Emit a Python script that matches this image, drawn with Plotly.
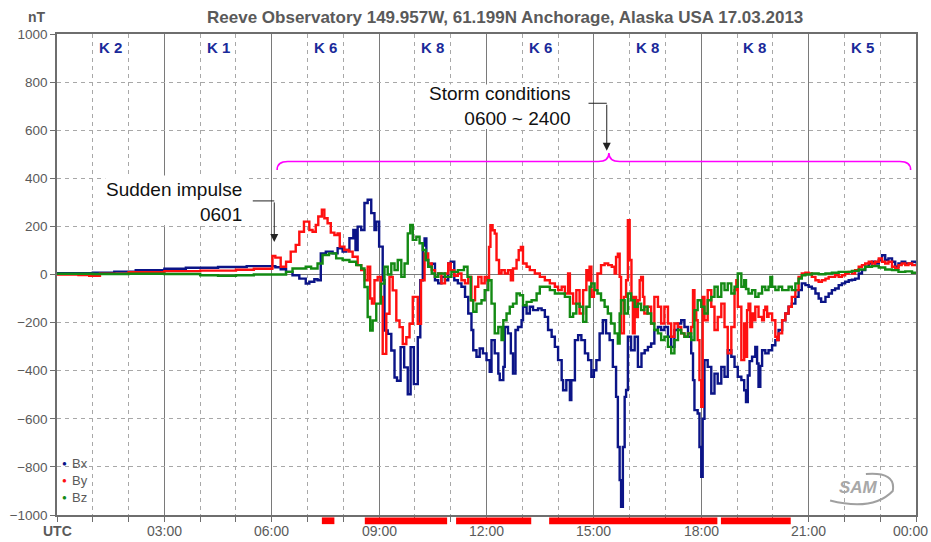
import plotly.graph_objects as go

# Magnetometer readings (hour UTC, nT)
bx_readings = [
    (0, 5), (0.5, 5), (1.0, 8), (1.6, 12), (2.2, 18), (3.0, 24), (3.6, 28), (4.5, 31), (5.3, 35), (6.0, 35),
    (6.1, 30), (6.25, 22), (6.4, 11), (6.58, -3), (6.77, -17), (6.95, -38), (7.05, -30), (7.19, -20), (7.28, -24),
    (7.37, 88), (7.51, 95), (7.7, 88), (7.84, 109), (7.98, 95), (8.08, 102), (8.17, 151), (8.28, 185), (8.34, 102),
    (8.4, 199), (8.5, 185), (8.59, 297), (8.68, 311), (8.78, 255), (8.87, 185), (8.92, 220), (9.0, 116), (9.1, -24),
    (9.15, -233), (9.24, -247), (9.34, -316), (9.43, -428), (9.5, -442), (9.6, -302), (9.7, -386), (9.8, -498),
    (9.88, -302), (9.97, -456), (10.08, -261), (10.15, -24), (10.22, 120), (10.27, 150), (10.32, 60), (10.37, 32),
    (10.47, 45), (10.56, -24), (10.65, -37), (10.74, -10), (10.84, -24), (10.93, 46), (11.0, 53), (11.1, -24),
    (11.2, -37), (11.3, -51), (11.4, -93), (11.49, -162), (11.58, -231), (11.63, -315), (11.72, -342), (11.81, -308),
    (11.9, -328), (12.0, -356), (12.09, -405), (12.14, -273), (12.23, -328), (12.33, -412), (12.37, -439),
    (12.47, -384), (12.51, -218), (12.6, -245), (12.68, -328), (12.74, -412), (12.81, -231), (12.88, -218),
    (12.98, -190), (13.02, -134), (13.12, -162), (13.21, -134), (13.3, -148), (13.44, -141), (13.54, -148),
    (13.63, -176), (13.72, -231), (13.82, -259), (13.91, -301), (14.0, -356), (14.1, -439), (14.14, -481),
    (14.23, -439), (14.33, -522), (14.37, -440), (14.47, -273), (14.56, -252), (14.65, -273), (14.75, -328),
    (14.84, -356), (14.93, -425), (15.0, -398), (15.07, -356), (15.16, -245), (15.25, -190), (15.34, -245),
    (15.44, -273), (15.53, -384), (15.62, -509), (15.67, -717), (15.72, -855), (15.76, -966), (15.81, -717),
    (15.86, -509), (15.9, -480), (15.95, -259), (16.04, -315), (16.14, -259), (16.23, -384), (16.33, -328),
    (16.42, -315), (16.51, -301), (16.6, -287), (16.69, -231), (16.79, -218), (16.88, -231), (16.97, -218),
    (17.07, -259), (17.16, -301), (17.25, -231), (17.35, -204), (17.44, -190), (17.53, -218), (17.63, -259),
    (17.72, -328), (17.77, -439), (17.81, -564), (17.9, -578), (17.95, -717), (18.0, -841), (18.04, -600),
    (18.09, -356), (18.18, -384), (18.28, -495), (18.37, -412), (18.46, -453), (18.56, -384), (18.65, -425),
    (18.74, -315), (18.84, -342), (18.93, -384), (19.02, -425), (19.12, -439), (19.2, -481), (19.25, -530),
    (19.3, -420), (19.35, -360), (19.42, -342), (19.51, -301), (19.56, -370), (19.6, -467), (19.65, -380),
    (19.7, -315), (19.79, -328), (19.88, -315), (19.98, -294), (20.07, -273), (20.16, -231), (20.26, -190),
    (20.35, -162), (20.44, -134), (20.53, -121), (20.63, -93), (20.72, -65), (20.81, -37), (20.91, -44),
    (21.0, -51), (21.09, -58), (21.19, -79), (21.28, -100), (21.35, -114), (21.47, -93), (21.56, -79),
    (21.65, -65), (21.74, -58), (21.84, -44), (21.93, -37), (22.02, -30), (22.12, -24), (22.21, -22),
    (22.3, -17), (22.4, 4), (22.49, 18), (22.58, 32), (22.68, 46), (22.77, 53), (22.86, 46), (22.96, 60),
    (23.05, 80), (23.14, 60), (23.23, 67), (23.33, 53), (23.42, 32), (23.51, 46), (23.6, 53), (23.7, 46),
    (23.79, 46), (23.89, 53), (24.0, 46),
]

by_readings = [
    (0, 0), (0.6, -2), (0.9, -5), (1.2, 3), (2.0, 10), (3.0, 14), (4.0, 16), (5.0, 20), (5.5, 24), (6.0, 25),
    (6.02, 77), (6.1, 70), (6.25, 32), (6.4, 53), (6.53, 95), (6.67, 123), (6.77, 178), (6.9, 220), (7.05, 185),
    (7.14, 178), (7.23, 206), (7.3, 241), (7.4, 269), (7.47, 234), (7.56, 213), (7.65, 174), (7.75, 164),
    (7.84, 171), (7.9, 116), (8.03, 102), (8.15, 95), (8.26, 74), (8.4, 39), (8.5, 18), (8.6, -24), (8.68, 32),
    (8.75, -100), (8.8, -121), (8.87, -24), (8.96, -10), (9.05, -93), (9.1, -330), (9.2, -163), (9.29, -10),
    (9.38, -66), (9.48, -191), (9.57, -219), (9.66, -289), (9.76, -261), (9.85, -205), (9.94, -93), (10.08, -205),
    (10.17, -24), (10.27, 88), (10.37, 46), (10.47, 18), (10.56, -10), (10.65, 4), (10.74, -37), (10.84, 4),
    (10.93, 46), (11.0, 18), (11.1, -5), (11.2, 4), (11.3, -24), (11.4, -37), (11.49, -10), (11.58, -107),
    (11.68, -51), (11.77, -10), (11.86, -37), (11.95, -10), (12.02, -24), (12.07, 115), (12.11, 205),
    (12.17, 184), (12.23, 170), (12.28, 60), (12.35, 4), (12.42, 18), (12.51, 4), (12.6, 18), (12.68, -24),
    (12.74, 25), (12.84, 60), (12.9, 101), (12.96, 115), (13.02, 46), (13.12, 32), (13.21, 18), (13.35, 4),
    (13.49, -10), (13.63, -24), (13.77, -37), (13.91, -51), (14.0, -65), (14.1, -51), (14.19, -79), (14.28, 4),
    (14.33, -79), (14.42, -121), (14.51, -65), (14.6, -162), (14.7, -65), (14.79, 18), (14.84, -24), (14.88, 32),
    (14.93, -93), (15.0, -65), (15.1, 4), (15.2, 39), (15.3, 46), (15.4, 39), (15.5, 32), (15.58, 4),
    (15.62, 73), (15.67, 87), (15.72, -10), (15.76, -245), (15.84, -93), (15.9, -24), (15.95, 226), (16.0, 60),
    (16.05, -93), (16.09, -245), (16.14, -93), (16.18, -177), (16.23, -107), (16.28, -24), (16.32, -10),
    (16.37, -93), (16.41, -162), (16.5, -134), (16.6, -204), (16.69, -93), (16.79, -134), (16.88, -204),
    (16.97, -134), (17.07, -204), (17.16, -259), (17.25, -204), (17.35, -218), (17.44, -245), (17.53, -259),
    (17.63, -245), (17.72, -218), (17.77, -65), (17.81, -148), (17.86, -190), (17.9, -273), (17.95, -439),
    (18.0, -550), (18.04, -93), (18.09, -190), (18.18, -65), (18.28, -134), (18.37, -231), (18.46, -177),
    (18.56, -121), (18.65, -218), (18.74, -328), (18.84, -218), (18.93, -65), (18.98, -24), (19.02, -134),
    (19.12, -356), (19.2, -204), (19.23, -342), (19.28, -148), (19.32, -121), (19.37, -218), (19.42, -162),
    (19.47, -190), (19.51, -134), (19.6, -176), (19.7, -190), (19.75, -148), (19.79, -134), (19.84, -176),
    (19.88, -162), (19.98, -190), (20.07, -259), (20.12, -273), (20.16, -245), (20.26, -190), (20.35, -162),
    (20.44, -134), (20.53, -93), (20.63, -65), (20.72, -10), (20.81, 4), (20.91, 7), (21.0, 4), (21.09, -10),
    (21.19, -24), (21.28, -30), (21.37, -24), (21.47, -17), (21.56, -10), (21.65, -10), (21.74, -3),
    (21.84, -10), (21.93, -3), (22.02, 4), (22.12, 11), (22.21, 4), (22.3, 18), (22.4, 32), (22.49, 39),
    (22.58, 46), (22.68, 53), (22.77, 46), (22.86, 53), (22.96, 67), (23.05, 53), (23.14, 46), (23.23, 53),
    (23.33, 32), (23.42, 25), (23.51, 39), (23.6, 46), (23.7, 39), (23.79, 46), (23.89, 39), (24.0, 39),
]

bz_readings = [
    (0, 3), (1.0, 2), (2.0, 3), (3.0, 2), (4.0, -3), (4.5, -5), (5.0, -3), (5.5, 0), (6.0, 0),
    (6.2, 0), (6.4, 11), (6.58, 25), (6.77, 25), (6.95, 32), (7.1, 25), (7.28, 46), (7.42, 81), (7.6, 88),
    (7.8, 67), (7.98, 60), (8.17, 53), (8.36, 39), (8.5, 25), (8.59, -52), (8.68, -177), (8.75, -233),
    (8.82, -191), (8.92, -121), (9.05, -38), (9.15, 32), (9.24, 0), (9.34, 46), (9.43, 18), (9.52, 60),
    (9.62, -10), (9.71, 46), (9.8, 171), (9.87, 206), (9.94, 144), (10.04, 157), (10.13, 130), (10.22, 102),
    (10.3, 60), (10.37, 32), (10.47, 4), (10.56, -10), (10.65, 4), (10.84, -10), (11.02, 11), (11.2, 18),
    (11.37, 32), (11.47, -10), (11.56, -107), (11.63, -155), (11.72, -121), (11.86, -107), (11.95, -65),
    (12.05, -24), (12.14, -121), (12.23, -245), (12.33, -218), (12.42, -273), (12.47, -190), (12.56, -162),
    (12.65, -134), (12.74, -121), (12.84, -79), (12.93, -86), (13.02, -128), (13.12, -114), (13.26, -107),
    (13.4, -79), (13.49, -51), (13.63, -51), (13.77, -65), (13.91, -79), (14.05, -79), (14.19, -93),
    (14.33, -176), (14.42, -162), (14.51, -121), (14.6, -134), (14.7, -197), (14.79, -134), (14.88, -51),
    (14.93, -37), (15.02, -65), (15.1, -79), (15.2, -107), (15.3, -134), (15.39, -162), (15.48, -204),
    (15.58, -245), (15.67, -287), (15.72, -162), (15.76, -107), (15.86, -162), (15.95, -79), (16.04, -107),
    (16.14, -134), (16.23, -121), (16.32, -148), (16.41, -134), (16.5, -162), (16.6, -204), (16.69, -231),
    (16.79, -245), (16.88, -273), (16.97, -259), (17.07, -301), (17.16, -328), (17.25, -273), (17.35, -231),
    (17.44, -245), (17.53, -259), (17.63, -245), (17.72, -273), (17.81, -148), (17.9, -107), (18.0, -134),
    (18.09, -162), (18.18, -107), (18.28, -93), (18.37, -51), (18.46, -93), (18.56, -37), (18.65, -65),
    (18.74, -37), (18.84, -79), (18.93, -51), (19.02, 4), (19.12, -51), (19.2, -24), (19.25, -60),
    (19.32, -79), (19.42, -65), (19.51, -93), (19.6, -79), (19.7, -51), (19.79, -65), (19.88, -51),
    (19.93, -10), (19.98, -51), (20.07, -65), (20.16, -51), (20.26, -65), (20.35, -65), (20.44, -51),
    (20.53, -65), (20.63, -37), (20.72, -17), (20.81, -3), (20.91, 0), (21.09, 4), (21.28, 1), (21.47, 4),
    (21.65, 7), (21.84, 11), (22.02, 11), (22.21, 15), (22.4, 21), (22.58, 32), (22.77, 35), (22.96, 29),
    (23.14, 21), (23.33, 18), (23.51, 11), (23.7, 13), (23.89, 7), (24.0, 4),
]

# Planetary K index per 3-hour block
k_index = [2, 1, 6, 8, 6, 8, 8, 5]

# Storm-level periods marked beneath the time axis (start hour, end hour)
storm_periods = [(7.4, 7.75), (8.6, 10.9), (11.15, 13.25), (13.75, 18.45), (18.55, 20.5)]

x_tick_vals = [0, 3, 6, 9, 12, 15, 18, 21, 24]
x_tick_text = ["<b>UTC</b>", "03:00", "06:00", "09:00", "12:00", "15:00", "18:00", "21:00", "00:00"]
y_tick_vals = [1000, 800, 600, 400, 200, 0, -200, -400, -600, -800, -1000]

series = [
    ("Bx", bx_readings, "#0b1487"),
    ("By", by_readings, "#ff1010"),
    ("Bz", bz_readings, "#138a13"),
]

FONT = "Liberation Sans, Arial, sans-serif"
GRAY = "#5a5a5a"
AXIS = "#6e6e6e"
W, H = 931, 542
M = dict(l=57, r=15, t=34, b=27)
PW = W - M["l"] - M["r"]
PH = H - M["t"] - M["b"]

fig = go.Figure()
for name, readings, color in series:
    fig.add_trace(go.Scatter(
        x=[t for t, _ in readings], y=[v for _, v in readings],
        mode="lines", name=name, line=dict(color=color, width=2.4, shape="hv"),
        showlegend=False, hoverinfo="skip",
    ))

shapes = []
annotations = []

# White boxes behind the callout text
shapes.append(dict(type="rect", xref="x", yref="y", x0=1.35, x1=5.3, y0=205, y1=412,
                   fillcolor="white", line_width=0, layer="above"))
shapes.append(dict(type="rect", xref="x", yref="y", x0=10.15, x1=14.65, y0=605, y1=790,
                   fillcolor="white", line_width=0, layer="above"))

# Storm-period bars under the axis
for t0, t1 in storm_periods:
    shapes.append(dict(type="rect", xref="x", yref="paper", x0=t0, x1=t1, y0=-0.019, y1=-0.005,
                       fillcolor="#ff0000", line_width=0))

# Curly brace spanning the storm interval
bx0, bx1, bmid = 6.15, 23.85, 15.42
y_top, y_end, y_peak = 470, 435, 505
dx = 0.3
brace = (f"M {bx0},{y_end} Q {bx0},{y_top} {bx0 + dx},{y_top} "
         f"L {bmid - dx},{y_top} Q {bmid},{y_top} {bmid},{y_peak} "
         f"Q {bmid},{y_top} {bmid + dx},{y_top} "
         f"L {bx1 - dx},{y_top} Q {bx1},{y_top} {bx1},{y_end}")
shapes.append(dict(type="path", xref="x", yref="y", path=brace,
                   line=dict(color="#ff00ff", width=1.6), layer="above"))

# Callout leader lines
shapes.append(dict(type="line", xref="x", yref="y", x0=5.47, x1=6.07, y0=306, y1=306,
                   line=dict(color="#222222", width=1), layer="above"))
shapes.append(dict(type="line", xref="x", yref="y", x0=14.85, x1=15.36, y0=712, y1=712,
                   line=dict(color="#222222", width=1), layer="above"))
annotations.append(dict(x=6.07, y=135, ax=6.07, ay=306, xref="x", yref="y", axref="x", ayref="y",
                        text="", showarrow=True, arrowhead=2, arrowsize=1.6, arrowwidth=1,
                        arrowcolor="#222222"))
annotations.append(dict(x=15.36, y=515, ax=15.36, ay=712, xref="x", yref="y", axref="x", ayref="y",
                        text="", showarrow=True, arrowhead=2, arrowsize=1.6, arrowwidth=1,
                        arrowcolor="#222222"))

CALLOUT = dict(family="Liberation Sans, Arial, sans-serif", size=19, color="#111111")
annotations.append(dict(x=5.22, y=302, xref="x", yref="y", xanchor="right", yanchor="middle",
                        text="Sudden impulse<br>0601", align="right", showarrow=False, font=CALLOUT))
annotations.append(dict(x=14.43, y=700, xref="x", yref="y", xanchor="right", yanchor="middle",
                        text="Storm conditions<br>0600 ~ 2400", align="right", showarrow=False,
                        font=CALLOUT))

# K index labels
for i, k in enumerate(k_index):
    annotations.append(dict(x=3 * i + 1.5, y=945, xref="x", yref="y", text=f"<b>K {k}</b>",
                            showarrow=False, font=dict(family=FONT, size=15, color="#1a2a9a"),
                            xanchor="center", yanchor="middle"))

# Component key
for j, (name, _, color) in enumerate(series):
    yv = -785 - 71 * j
    annotations.append(dict(x=0.2, y=yv, xref="x", yref="y", text="●", showarrow=False,
                            font=dict(family=FONT, size=8, color=color), xanchor="center",
                            yanchor="middle"))
    annotations.append(dict(x=0.36, y=yv, xref="x", yref="y", text=name, showarrow=False,
                            font=dict(family=FONT, size=13, color=GRAY), xanchor="left",
                            yanchor="middle"))

# Unit label and title
annotations.append(dict(x=(37 - M["l"]) / PW, y=(H - M["b"] - 17) / PH, xref="paper", yref="paper",
                        text="<b>nT</b>", showarrow=False, xanchor="center", yanchor="middle",
                        font=dict(family=FONT, size=14, color=GRAY)))
annotations.append(dict(x=(505 - M["l"]) / PW, y=(H - M["b"] - 17) / PH, xref="paper", yref="paper",
                        text="<b>Reeve Observatory 149.957W, 61.199N Anchorage, Alaska USA 17.03.2013</b>",
                        showarrow=False, font=dict(family=FONT, size=17, color=GRAY),
                        xanchor="center", yanchor="middle"))

# Time labels below the axis (last one kept inside the page)
label_y = -(531 - (H - M["b"])) / PH
for tv, tt in zip(x_tick_vals, x_tick_text):
    last = tv == x_tick_vals[-1]
    annotations.append(dict(x=(W - 1 - M["l"]) / PW if last else tv,
                            xref="paper" if last else "x", y=label_y, yref="paper",
                            text=tt, showarrow=False, xanchor="right" if last else "center",
                            yanchor="middle", font=dict(family=FONT, size=14, color=GRAY)))

# Logo mark
annotations.append(dict(x=22.4, y=-885, xref="x", yref="y", text="<i><b>SAM</b></i>", showarrow=False,
                        font=dict(family=FONT, size=17, color="#a8a8a8"), xanchor="center",
                        yanchor="middle"))
shapes.append(dict(type="path", xref="x", yref="y",
                   path="M 21.6,-940 Q 22.8,-985 23.35,-900 Q 23.45,-820 22.6,-830",
                   line=dict(color="#a0a0a0", width=2)))

fig.update_layout(
    width=W, height=H,
    margin=M,
    paper_bgcolor="white", plot_bgcolor="white",
    shapes=shapes, annotations=annotations,
    font=dict(family=FONT, color=GRAY),
    xaxis=dict(
        range=[0, 24], tickvals=x_tick_vals, showticklabels=False, automargin=False,
        showgrid=True, gridcolor="#7a7a7a", gridwidth=1.3,
        minor=dict(dtick=1, tick0=0, showgrid=True, gridcolor="#a8a8a8", griddash="4px,4px",
                   gridwidth=1, ticks="outside", ticklen=5, tickcolor=AXIS),
        ticks="outside", ticklen=5, tickcolor=AXIS,
        showline=True, linecolor=AXIS, linewidth=1.5, mirror=True,
        zeroline=False,
    ),
    yaxis=dict(
        range=[-1000, 1000], tickvals=y_tick_vals, automargin=False,
        showgrid=True, gridcolor="#a8a8a8", griddash="4px,4px", gridwidth=1,
        zeroline=True, zerolinecolor="#7a7a7a", zerolinewidth=1.3,
        ticks="outside", ticklen=5, tickcolor=AXIS,
        showline=True, linecolor=AXIS, linewidth=1.5, mirror=True,
        tickfont=dict(family=FONT, size=13.5, color=GRAY),
    ),
)

fig.write_html("out.html")
